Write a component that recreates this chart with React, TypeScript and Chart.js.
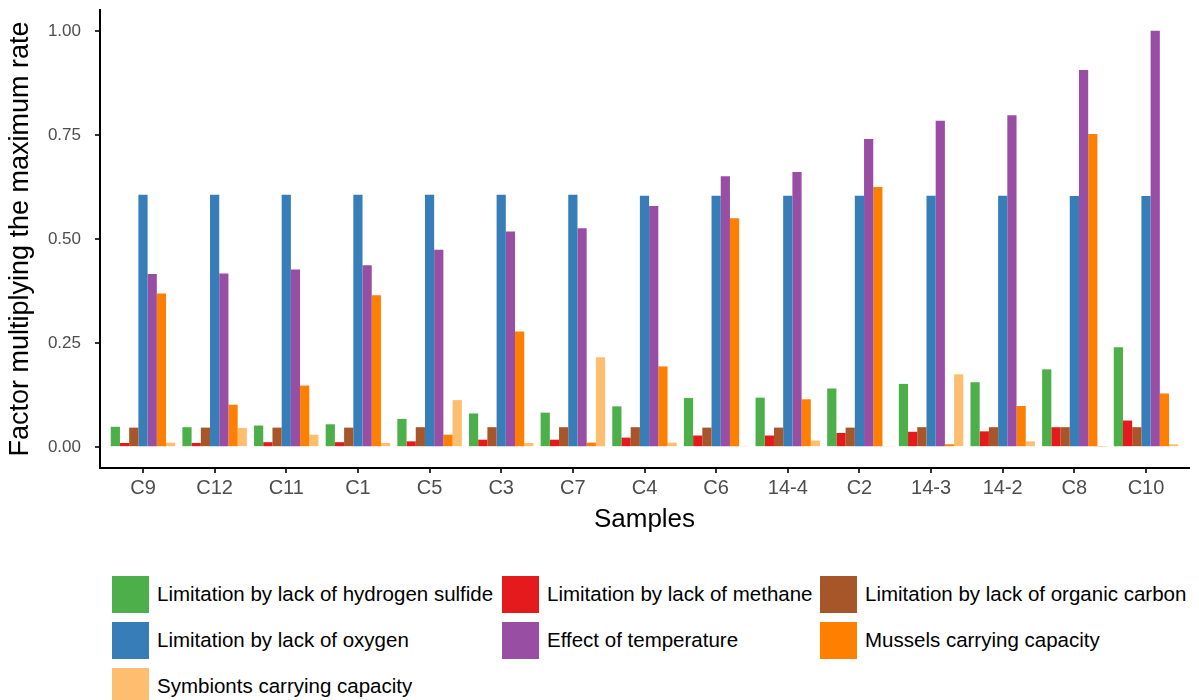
import React, { useEffect, useRef } from "react";
import { Chart, registerables } from "chart.js";

Chart.register(...registerables);

const samples = ["C9", "C12", "C11", "C1", "C5", "C3", "C7", "C4", "C6", "14-4", "C2", "14-3", "14-2", "C8", "C10"];

const hydrogenSulfide = [0.049, 0.048, 0.052, 0.055, 0.068, 0.081, 0.083, 0.098, 0.118, 0.119, 0.141, 0.152, 0.156, 0.187, 0.240];
const methane = [0.010, 0.010, 0.012, 0.012, 0.014, 0.018, 0.018, 0.023, 0.028, 0.028, 0.034, 0.037, 0.038, 0.048, 0.064];
const organicCarbon = [0.047, 0.047, 0.047, 0.047, 0.048, 0.048, 0.048, 0.048, 0.047, 0.047, 0.047, 0.048, 0.048, 0.048, 0.048];
const oxygen = [0.606, 0.606, 0.606, 0.606, 0.606, 0.606, 0.606, 0.604, 0.604, 0.604, 0.604, 0.604, 0.604, 0.603, 0.603];
const temperature = [0.416, 0.417, 0.427, 0.437, 0.474, 0.518, 0.526, 0.579, 0.651, 0.661, 0.740, 0.784, 0.797, 0.906, 1.0];
const mussels = [0.369, 0.102, 0.148, 0.365, 0.030, 0.278, 0.011, 0.194, 0.550, 0.115, 0.625, 0.007, 0.099, 0.752, 0.129];
const symbionts = [0.011, 0.046, 0.030, 0.010, 0.113, 0.010, 0.216, 0.011, 0.003, 0.016, 0.003, 0.175, 0.014, 0.001, 0.007];

const seriesNames = [
  "Limitation by lack of hydrogen sulfide",
  "Limitation by lack of methane",
  "Limitation by lack of organic carbon",
  "Limitation by lack of oxygen",
  "Effect of temperature",
  "Mussels carrying capacity",
  "Symbionts carrying capacity",
];
const seriesValues = [hydrogenSulfide, methane, organicCarbon, oxygen, temperature, mussels, symbionts];
const seriesColors = ["#4DAF4A", "#E41A1C", "#A65628", "#377EB8", "#984EA3", "#FF7F00", "#FDBF6F"];

const yTicks = [0, 0.25, 0.5, 0.75, 1.0];

const FONT = "'Liberation Sans', Arial, sans-serif";

export default function App() {
  const canvasRef = useRef<HTMLCanvasElement | null>(null);

  useEffect(() => {
    const canvas = canvasRef.current;
    if (!canvas) return;
    const chart = new Chart(canvas, {
      type: "bar",
      data: {
        datasets: seriesNames.map((name, s) => ({
          label: name,
          data: seriesValues[s].map((v, i) => ({ x: i, y: v })),
          backgroundColor: seriesColors[s],
          borderWidth: 0,
          barPercentage: 1,
          categoryPercentage: 0.9,
        })),
      },
      options: {
        responsive: false,
        animation: false,
        layout: { padding: { top: 10, right: 10, bottom: 5, left: 0 } },
        plugins: {
          legend: { display: false },
          tooltip: { enabled: false },
        },
        scales: {
          x: {
            type: "linear",
            min: -0.6,
            max: 14.6,
            offset: false,
            afterBuildTicks: (scale: any) => {
              scale.ticks = samples.map((_, i) => ({ value: i }));
            },
            afterFit: (scale: any) => {
              scale.height = 67;
              scale.paddingLeft = 0;
              scale.paddingRight = 0;
            },
            ticks: {
              autoSkip: false,
              maxRotation: 0,
              padding: 3,
              color: "#4D4D4D",
              font: { family: FONT, size: 20 },
              callback: (v: any) => samples[Math.round(Number(v))] ?? "",
            },
            grid: { offset: false, drawOnChartArea: false, drawTicks: true, tickLength: 5, color: "#333333", lineWidth: 2 },
            border: { display: true, color: "#000000", width: 2 },
            title: {
              display: true,
              text: "Samples",
              color: "#000000",
              font: { family: FONT, size: 26 },
              padding: { top: 0, bottom: 0 },
            },
          },
          y: {
            type: "linear",
            min: -0.05,
            max: 1.05,
            afterBuildTicks: (scale: any) => {
              scale.ticks = yTicks.map((v) => ({ value: v }));
            },
            afterFit: (scale: any) => {
              scale.width = 100;
              scale.paddingTop = 0;
              scale.paddingBottom = 0;
            },
            ticks: {
              padding: 14,
              color: "#4D4D4D",
              font: { family: FONT, size: 17 },
              callback: (v: any) => Number(v).toFixed(2),
            },
            grid: { drawOnChartArea: false, drawTicks: true, tickLength: 5, color: "#333333", lineWidth: 2 },
            border: { display: true, color: "#000000", width: 2 },
            title: {
              display: true,
              text: "Factor multiplying the maximum rate",
              color: "#000000",
              font: { family: FONT, size: 27 },
              padding: { top: 4, bottom: 0 },
            },
          },
        },
      },
    });
    return () => chart.destroy();
  }, []);

  const colX = [112, 502, 820];
  const rowY = [575, 621, 667];

  return (
    <div style={{ position: "absolute", left: 0, top: 0, width: 1199, height: 700, background: "#fff", overflow: "hidden", fontFamily: FONT }}>
      <canvas ref={canvasRef} width={1199} height={540} style={{ position: "absolute", left: 0, top: 0, width: 1199, height: 540 }} />
      {seriesNames.map((name, s) => {
        const col = s % 3;
        const row = Math.floor(s / 3);
        return (
          <div key={name} style={{ position: "absolute", left: colX[col], top: rowY[row], height: 38, display: "flex", alignItems: "center", whiteSpace: "nowrap" }}>
            <div style={{ width: 37, height: 37, background: seriesColors[s], flex: "0 0 auto" }} />
            <span style={{ marginLeft: 8, fontSize: 20.5, color: "#000", lineHeight: "38px" }}>{name}</span>
          </div>
        );
      })}
    </div>
  );
}
